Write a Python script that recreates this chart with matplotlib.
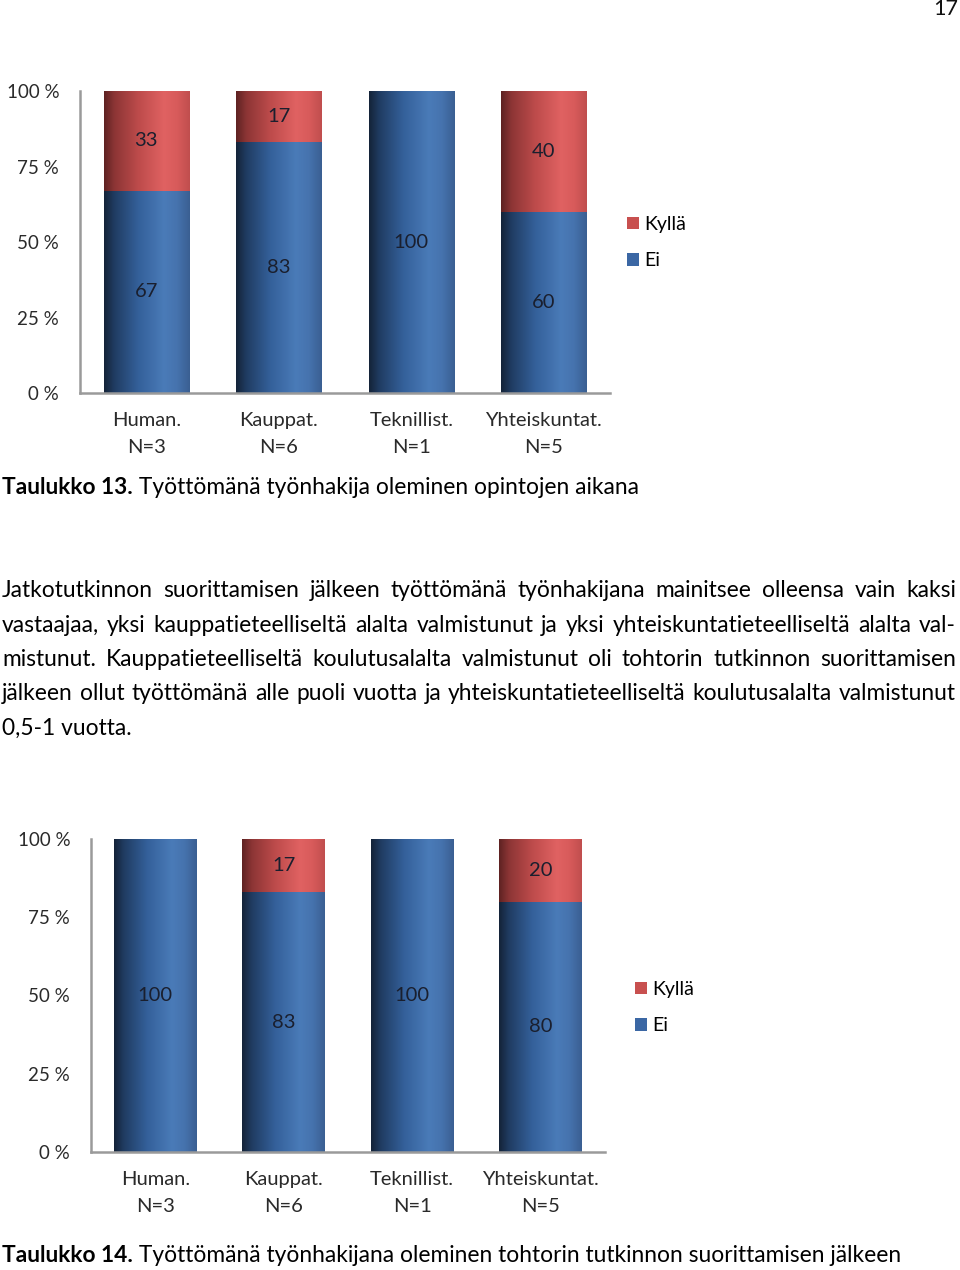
import numpy as np
import matplotlib
matplotlib.use("Agg")
import matplotlib.pyplot as plt
from matplotlib.colors import LinearSegmentedColormap
from matplotlib.patches import Patch

FONT = "Lato"
plt.rcParams['font.family'] = [FONT, 'DejaVu Sans']

# ---------------- data ----------------
categories = ["Human.\nN=3", "Kauppat.\nN=6", "Teknillist.\nN=1", "Yhteiskuntat.\nN=5"]
series_names = ["Kyllä", "Ei"]
chart1_ei = [67, 83, 100, 60]
chart1_kylla = [33, 17, 0, 40]
chart2_ei = [100, 83, 100, 80]
chart2_kylla = [0, 17, 0, 20]
yticks = [0, 25, 50, 75, 100]
ytick_labels = ["0 %", "25 %", "50 %", "75 %", "100 %"]

page_number = "17"
caption1_bold = "Taulukko 13."
caption1_text = " Työttömänä työnhakija oleminen opintojen aikana"
caption2_bold = "Taulukko 14."
caption2_text = " Työttömänä työnhakijana oleminen tohtorin tutkinnon suorittamisen jälkeen"
paragraph_lines = [
    "Jatkotutkinnon suorittamisen jälkeen työttömänä työnhakijana mainitsee olleensa vain kaksi",
    "vastaajaa, yksi kauppatieteelliseltä alalta valmistunut ja yksi yhteiskuntatieteelliseltä alalta val-",
    "mistunut. Kauppatieteelliseltä koulutusalalta valmistunut oli tohtorin tutkinnon suorittamisen",
    "jälkeen ollut työttömänä alle puoli vuotta ja yhteiskuntatieteelliseltä koulutusalalta valmistunut",
    "0,5-1 vuotta.",
]

# ---------------- styles ----------------
W, H = 960, 1270
fig = plt.figure(figsize=(W / 100, H / 100), dpi=100)
fig.patch.set_facecolor("white")

blue_cmap = LinearSegmentedColormap.from_list("b", [
    (0.0, "#142338"), (0.12, "#203c62"), (0.4, "#34609a"),
    (0.7, "#4a7bb8"), (0.85, "#4673ae"), (1.0, "#3a5f92")])
red_cmap = LinearSegmentedColormap.from_list("r", [
    (0.0, "#5e2222"), (0.12, "#8c3535"), (0.4, "#bd4b4b"),
    (0.7, "#e06262"), (0.85, "#d85b5b"), (1.0, "#c04e4e")])
legend_red = "#c8504f"
legend_blue = "#3b67a4"
label_color = "#1a1f2e"
spine_color = "#9a9a9a"
axis_text = "#2a2a2a"


def px_axes(left, right, top, bottom):
    return fig.add_axes([left / W, 1 - bottom / H, (right - left) / W, (bottom - top) / H])


def gradient_fill(ax, patches, cmap):
    grad = np.linspace(0, 1, 256).reshape(1, -1)
    for p in patches:
        if p.get_height() <= 0:
            continue
        x0, y0 = p.get_x(), p.get_y()
        w, h = p.get_width(), p.get_height()
        im = ax.imshow(grad, cmap=cmap, aspect="auto", extent=(x0, x0 + w, y0, y0 + h),
                       zorder=p.get_zorder() + 0.1, interpolation="bilinear")
        im.set_clip_path(p)


def draw_chart(ax, ei, kylla, legend_x, legend_y):
    x = np.arange(len(categories))
    width = 0.645
    b1 = ax.bar(x, ei, width, color=legend_blue, zorder=2, linewidth=0)
    b2 = ax.bar(x, kylla, width, bottom=ei, color=legend_red, zorder=2, linewidth=0)
    gradient_fill(ax, b1, blue_cmap)
    gradient_fill(ax, b2, red_cmap)
    for i in range(len(x)):
        if ei[i] > 0:
            ax.text(x[i], ei[i] / 2, f"{ei[i]}", ha="center", va="center",
                    fontsize=14.5, color=label_color, zorder=5)
        if kylla[i] > 0:
            ax.text(x[i], ei[i] + kylla[i] / 2, f"{kylla[i]}", ha="center", va="center",
                    fontsize=14.5, color=label_color, zorder=5)
    ax.set_xlim(-0.5, len(x) - 0.5)
    ax.set_ylim(0, 100)
    ax.set_yticks(yticks)
    ax.set_yticklabels(ytick_labels, fontsize=13.5, color=axis_text)
    ax.set_xticks(x)
    ax.set_xticklabels(categories, fontsize=14.5, color=axis_text, linespacing=1.68)
    ax.tick_params(axis="y", length=0, pad=15)
    ax.tick_params(axis="x", length=0, pad=14)
    for s in ["top", "right"]:
        ax.spines[s].set_visible(False)
    for s in ["left", "bottom"]:
        ax.spines[s].set_color(spine_color)
        ax.spines[s].set_linewidth(1.8)
    handles = [Patch(facecolor=legend_red, label=series_names[0]),
               Patch(facecolor=legend_blue, label=series_names[1])]
    fig.legend(handles=handles, loc="center left",
               bbox_to_anchor=(legend_x / W, 1 - legend_y / H),
               frameon=False, fontsize=14, handlelength=0.6, handleheight=0.6,
               handletextpad=0.3, labelspacing=1.0, borderpad=0, borderaxespad=0)


ax1 = px_axes(80, 610, 91, 393)
draw_chart(ax1, chart1_ei, chart1_kylla, 627, 242.5)
ax2 = px_axes(91, 605, 839, 1152)
draw_chart(ax2, chart2_ei, chart2_kylla, 635, 1007.5)

# ---------------- page text ----------------
renderer = fig.canvas.get_renderer()


def text_width(s, size, weight="normal"):
    t = fig.text(0, 0, s, fontsize=size, fontweight=weight)
    w = t.get_window_extent(renderer).width
    t.remove()
    return w

# fit body font so caption 2 spans its width in the reference
base = 15.0
cap_w = text_width(caption2_bold, base, "bold") + text_width(caption2_text, base)
BODY = base * 901 / cap_w
BODY = min(BODY, 16.5)

fig.text(946 / W, 1 - 9 / H, page_number, fontsize=BODY * 0.95, ha="center", va="center", color="#111111")


def caption(y, bold, rest):
    t = fig.text(2 / W, 1 - y / H, bold, fontsize=BODY, fontweight="bold", va="center", color="#000000")
    bw = t.get_window_extent(renderer).width
    fig.text((2 + bw) / W, 1 - y / H, rest, fontsize=BODY, va="center", color="#000000")

caption(487, caption1_bold, caption1_text)
caption(1255, caption2_bold, caption2_text)

line_y = [590, 625, 659, 693, 728]
x_left, x_right = 2, 956
for i, line in enumerate(paragraph_lines):
    y = 1 - line_y[i] / H
    if i == len(paragraph_lines) - 1:
        fig.text(x_left / W, y, line, fontsize=BODY, va="center", color="#000000")
        continue
    words = line.split(" ")
    widths = [text_width(w, BODY) for w in words]
    gap = (x_right - x_left - sum(widths)) / (len(words) - 1)
    xpos = x_left
    for w, ww in zip(words, widths):
        fig.text(xpos / W, y, w, fontsize=BODY, va="center", color="#000000")
        xpos += ww + gap

fig.savefig("out.png", dpi=100, facecolor="white")
